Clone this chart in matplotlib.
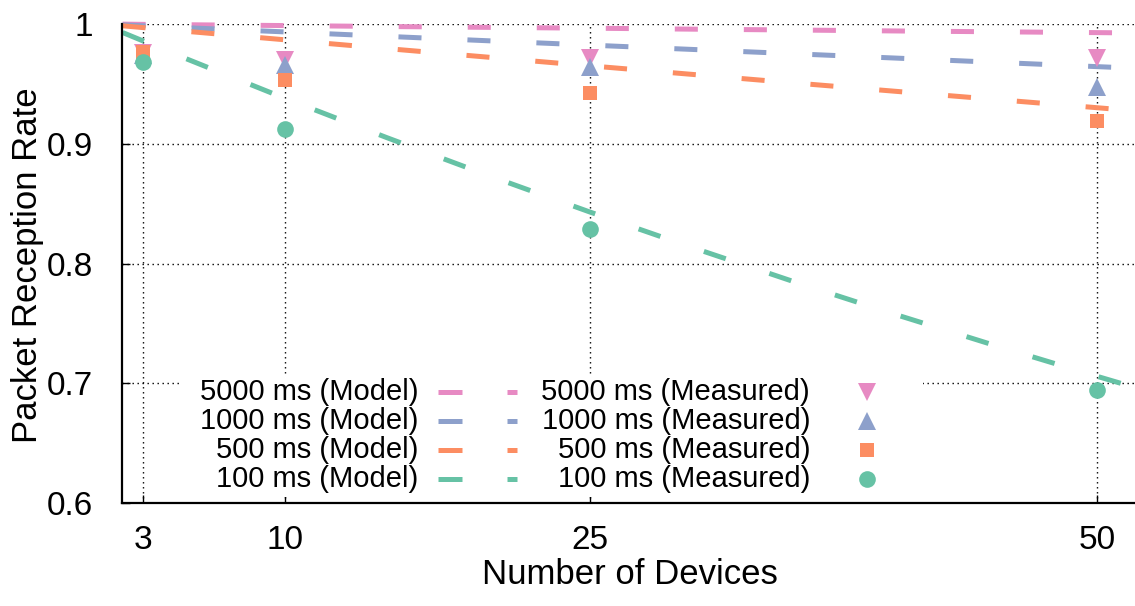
import numpy as np
import matplotlib
matplotlib.use("Agg")
import matplotlib.pyplot as plt
from matplotlib.patches import Rectangle
from matplotlib.lines import Line2D

plt.rcParams['font.family'] = ['Liberation Sans', 'DejaVu Sans']
plt.rcParams['lines.scale_dashes'] = False

## data
n_model = [2, 3, 5, 10, 15, 20, 25, 30, 35, 40, 45, 50, 52]
model_5000 = [0.9999, 0.9997, 0.9994, 0.9987, 0.9979, 0.9972, 0.9965, 0.9957, 0.9950, 0.9942, 0.9935, 0.9928, 0.9925]
model_1000 = [0.9993, 0.9985, 0.9970, 0.9934, 0.9897, 0.9860, 0.9824, 0.9788, 0.9752, 0.9716, 0.9680, 0.9644, 0.9630]
model_500 = [0.9985, 0.9970, 0.9941, 0.9868, 0.9795, 0.9723, 0.9651, 0.9580, 0.9509, 0.9439, 0.9370, 0.9301, 0.9273]
model_100 = [0.9929, 0.9859, 0.9719, 0.9379, 0.9052, 0.8736, 0.8431, 0.8137, 0.7852, 0.7578, 0.7314, 0.7058, 0.6958]

n_meas = [3, 10, 25, 50]
meas_5000 = [0.976, 0.970, 0.972, 0.972]
meas_1000 = [0.974, 0.966, 0.964, 0.947]
meas_500 = [0.977, 0.953, 0.942, 0.919]
meas_100 = [0.968, 0.912, 0.829, 0.694]

labels = ['5000 ms', '1000 ms', '500 ms', '100 ms']
colors = ['#e78ac3', '#8da0cb', '#fc8d62', '#66c2a5']
markers = ['v', '^', 's', 'o']
msizes = [13.5, 13.5, 10, 12]

W, H = 1135, 606
fx = lambda px: px / W
fy = lambda py: 1 - py / H

fig = plt.figure(figsize=(11.35, 6.06), dpi=100)
ax = fig.add_axes([fx(122), fy(503), fx(1135) - fx(122), fy(24) - fy(503)])

models = [model_5000, model_1000, model_500, model_100]
meas = [meas_5000, meas_1000, meas_500, meas_100]

## model curves (dashed)
for m, c in zip(models, colors):
    ax.plot(n_model, m, color=c, lw=3.6, dashes=(16.6, 33.1),
            dash_capstyle='butt', zorder=2, clip_on=False)

## measured points
for y, c, mk, ms in zip(meas, colors, markers, msizes):
    ax.plot(n_meas, y, linestyle='none', marker=mk, ms=ms, color=c,
            markeredgewidth=0, zorder=3)

ax.set_xlim(1.97, 51.87)
ax.set_ylim(0.6, 1.0)
ax.set_xticks(n_meas)
ax.set_yticks([0.6, 0.7, 0.8, 0.9, 1.0])
ax.set_yticklabels(['0.6', '0.7', '0.8', '0.9', '1'])
ax.tick_params(direction='in', length=6, width=1, labelsize=24)
ax.tick_params(axis='y', pad=21)
ax.tick_params(axis='x', pad=16)

ax.set_axisbelow(True)
ax.grid(True, color='black', lw=1.0, dashes=(1, 2.6))
for s in ['top', 'right']:
    ax.spines[s].set_visible(False)
for s in ['left', 'bottom']:
    ax.spines[s].set_linewidth(1.6)

ax.set_xlabel('Number of Devices', fontsize=25, va='center')
ax.set_ylabel('Packet Reception Rate', fontsize=25, va='center')
ax.xaxis.set_label_coords((630 - 122) / 1013, (503 - 575) / 479)
ax.yaxis.set_label_coords((28 - 122) / 1013, (503 - 265) / 479)

## legend (drawn by hand, gnuplot style)
ax.add_patch(Rectangle((fx(180), fy(497)), fx(923) - fx(180), fy(375) - fy(497),
                       transform=fig.transFigure, facecolor='white',
                       edgecolor='none', zorder=1))
rows = [392, 421, 450, 479]
for lab, c, mk, ms, r in zip(labels, colors, markers, msizes, rows):
    fig.text(fx(418), fy(r), lab + ' (Model)', ha='right', va='center', fontsize=21)
    fig.add_artist(Line2D([fx(438), fx(462)], [fy(r), fy(r)], color=c, lw=3.6,
                          solid_capstyle='butt'))
    fig.add_artist(Line2D([fx(507), fx(517)], [fy(r), fy(r)], color=c, lw=3.6,
                          solid_capstyle='butt'))
    fig.text(fx(810), fy(r), lab + ' (Measured)', ha='right', va='center', fontsize=21)
    fig.add_artist(Line2D([fx(867)], [fy(r)], marker=mk, ms=ms, color=c,
                          markeredgewidth=0, linestyle='none'))

fig.savefig('out.png', dpi=100)
